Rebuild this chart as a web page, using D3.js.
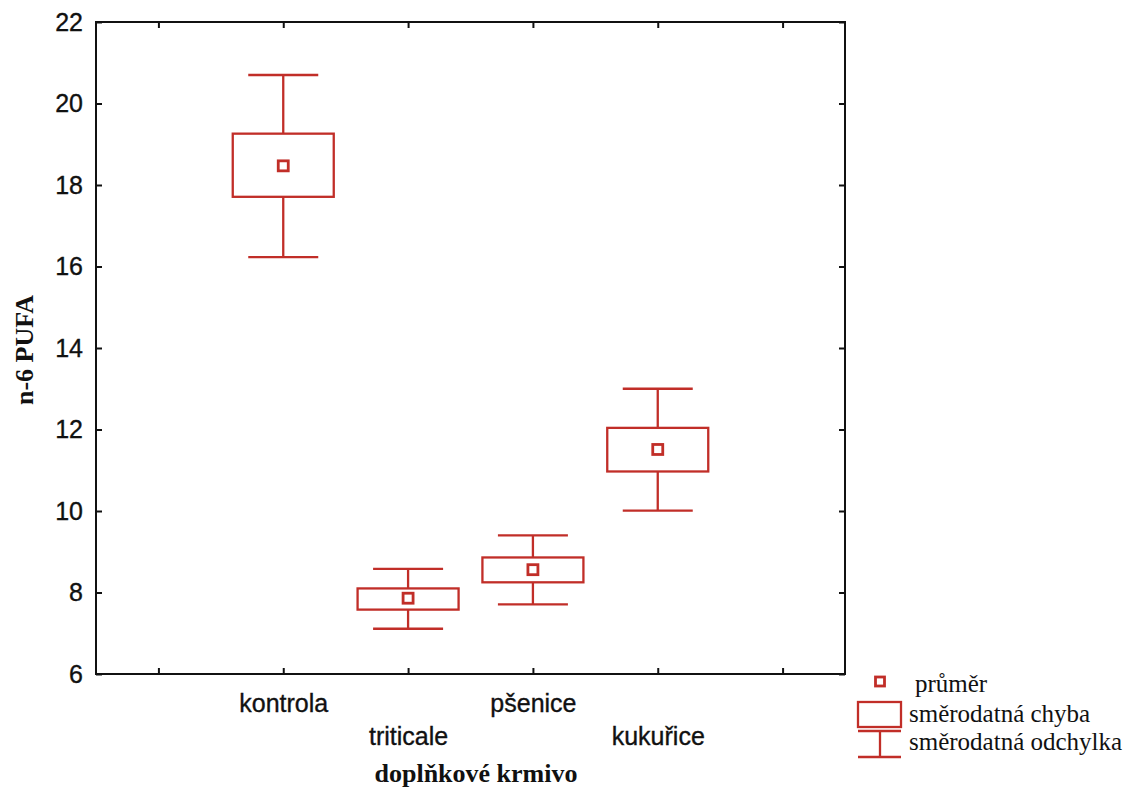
<!DOCTYPE html>
<html>
<head>
<meta charset="utf-8">
<script src="https://cdn.jsdelivr.net/npm/d3@7"></script>
<style>
  html, body { margin: 0; padding: 0; background: #fff; }
  svg { display: block; }
</style>
</head>
<body>
<svg id="chart" width="1132" height="792"></svg>
<script>
// Supplementary feed groups and n-6 PUFA summary statistics
const categories = ["kontrola", "triticale", "pšenice", "kukuřice"];
const means  = [18.47, 7.86, 8.56, 11.51];
const seLow  = [17.71, 7.58, 8.25, 10.97];
const seHigh = [19.26, 8.10, 8.86, 12.04];
const sdLow  = [16.23, 7.11, 7.71, 10.01];
const sdHigh = [20.70, 8.58, 9.40, 13.00];
const yTicks = [6, 8, 10, 12, 14, 16, 18, 20, 22];
const legendLabels = ["průměr", "směrodatná chyba", "směrodatná odchylka"];

(function () {
  const red = "#c12e28";
  const ink = "#111";
  const sans = "Liberation Sans, Arial, sans-serif";
  const serif = "Liberation Serif, Times New Roman, serif";
  const svg = d3.select("#chart");
  const plotL = 96, plotR = 845, plotT = 22, plotB = 674;

  // six slots on the x axis; the categories occupy the middle four
  const slots = d3.range(categories.length + 2);
  const slotLabel = i => (i >= 1 && i <= categories.length) ? categories[i - 1] : "";
  const x = d3.scalePoint().domain(slots).range([plotL, plotR]).padding(0.5);
  const y = d3.scaleLinear().domain([6, 22]).range([plotB, plotT]);

  const axisStyle = g => {
    g.select(".domain").remove();
    g.selectAll(".tick line").attr("stroke", ink).attr("stroke-width", 2);
  };

  // bottom axis with staggered labels
  const xAxis = svg.append("g").attr("transform", `translate(0,${plotB})`)
    .call(d3.axisBottom(x).tickSizeInner(-6).tickSizeOuter(0).tickFormat(slotLabel))
    .call(axisStyle);
  xAxis.selectAll(".tick text")
    .attr("font-family", sans)
    .attr("font-size", 25).attr("fill", ink)
    .attr("stroke", ink).attr("stroke-width", 0.35)
    .attr("y", d => (d % 2 === 1 ? 38 : 71))
    .attr("dy", 0);

  // top axis ticks only
  svg.append("g").attr("transform", `translate(0,${plotT})`)
    .call(d3.axisTop(x).tickSizeInner(-6).tickSizeOuter(0).tickFormat(""))
    .call(axisStyle);

  // left axis
  const yAxis = svg.append("g").attr("transform", `translate(${plotL},0)`)
    .call(d3.axisLeft(y).tickValues(yTicks).tickSizeInner(-6).tickSizeOuter(0).tickPadding(13))
    .call(axisStyle);
  yAxis.selectAll(".tick text")
    .attr("font-family", sans)
    .attr("font-size", 25).attr("fill", ink)
    .attr("stroke", ink).attr("stroke-width", 0.35);

  // right axis ticks only
  svg.append("g").attr("transform", `translate(${plotR},0)`)
    .call(d3.axisRight(y).tickValues(yTicks).tickSizeInner(-6).tickSizeOuter(0).tickFormat(""))
    .call(axisStyle);

  // plot frame
  svg.append("rect")
    .attr("x", plotL).attr("y", plotT)
    .attr("width", plotR - plotL).attr("height", plotB - plotT)
    .attr("fill", "none").attr("stroke", ink).attr("stroke-width", 2);

  // axis titles
  svg.append("text")
    .attr("x", 476).attr("y", 782)
    .attr("text-anchor", "middle")
    .attr("font-family", serif)
    .attr("font-weight", "bold").attr("font-size", 26).attr("fill", ink)
    .text("doplňkové krmivo");

  svg.append("text")
    .attr("transform", `translate(33,350) rotate(-90)`)
    .attr("text-anchor", "middle")
    .attr("font-family", serif)
    .attr("font-weight", "bold").attr("font-size", 26).attr("fill", ink)
    .text("n-6 PUFA");

  // whisker boxes
  const boxW = 101, capW = 70, markS = 10;
  const groups = svg.append("g")
    .selectAll("g").data(categories).join("g")
    .attr("fill", "none").attr("stroke", red).attr("stroke-width", 2.3);

  groups.each(function (c, i) {
    const g = d3.select(this);
    const cx = x(i + 1);
    // standard deviation whiskers
    g.append("line").attr("x1", cx).attr("x2", cx).attr("y1", y(sdHigh[i])).attr("y2", y(seHigh[i]));
    g.append("line").attr("x1", cx).attr("x2", cx).attr("y1", y(seLow[i])).attr("y2", y(sdLow[i]));
    g.append("line").attr("x1", cx - capW / 2).attr("x2", cx + capW / 2).attr("y1", y(sdHigh[i])).attr("y2", y(sdHigh[i]));
    g.append("line").attr("x1", cx - capW / 2).attr("x2", cx + capW / 2).attr("y1", y(sdLow[i])).attr("y2", y(sdLow[i]));
    // standard error box
    g.append("rect").attr("x", cx - boxW / 2).attr("y", y(seHigh[i]))
      .attr("width", boxW).attr("height", y(seLow[i]) - y(seHigh[i]));
    // mean marker
    g.append("rect").attr("x", cx - markS / 2).attr("y", y(means[i]) - markS / 2)
      .attr("width", markS).attr("height", markS).attr("stroke-width", 2.8);
  });

  // legend
  const lg = svg.append("g").attr("fill", "none").attr("stroke", red).attr("stroke-width", 2.3);
  const lx = 880;
  lg.append("rect").attr("x", lx - 4.5).attr("y", 677).attr("width", 9).attr("height", 9).attr("stroke-width", 2.8);
  lg.append("rect").attr("x", 858).attr("y", 702).attr("width", 43).attr("height", 25);
  lg.append("line").attr("x1", 858).attr("x2", 901).attr("y1", 731).attr("y2", 731);
  lg.append("line").attr("x1", lx).attr("x2", lx).attr("y1", 731).attr("y2", 757);
  lg.append("line").attr("x1", 858).attr("x2", 901).attr("y1", 757).attr("y2", 757);

  svg.append("g").selectAll("text").data(legendLabels).join("text")
    .attr("x", (d, i) => (i === 0 ? 915 : 909))
    .attr("y", (d, i) => [692, 722, 750][i])
    .attr("font-family", serif)
    .attr("font-size", 25).attr("fill", ink)
    .text(d => d);
})();
</script>
</body>
</html>
